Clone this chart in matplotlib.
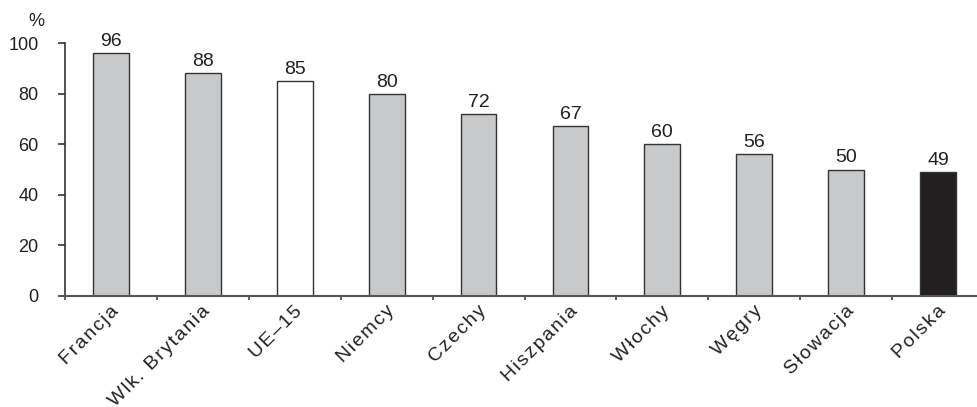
import matplotlib
matplotlib.use("Agg")
import matplotlib.pyplot as plt
import matplotlib.transforms as mtransforms
import numpy as np

plt.rcParams['font.family'] = ['Liberation Sans', 'DejaVu Sans']

categories = ["Francja", "Wlk. Brytania", "UE–15", "Niemcy", "Czechy",
              "Hiszpania", "Włochy", "Węgry", "Słowacja", "Polska"]
values = [96, 88, 85, 80, 72, 67, 60, 56, 50, 49]
kinds = ["country", "country", "eu", "country", "country",
         "country", "country", "country", "country", "home"]
y_ticks = [0, 20, 40, 60, 80, 100]

fill = {"country": "#c8c9cb", "eu": "#ffffff", "home": "#231f20"}
ink = "#231f20"


def spaced(s):
    # widen the tracking of category names with hair spaces
    return "\u200a".join(s)


fig = plt.figure(figsize=(9.77, 4.07), dpi=100)
ax = fig.add_axes([65 / 977, 111 / 407, 10 * 91.9 / 977, 253 / 407])

x = np.arange(len(categories))
ax.bar(x, values, width=0.39, color=[fill[k] for k in kinds],
       edgecolor="#333333", linewidth=1.0, zorder=2)

for xi, v in zip(x, values):
    ax.text(xi, v + 1.2, str(v), ha="center", va="bottom", fontsize=14,
            color=ink, clip_on=False)

ax.set_xlim(-0.5, len(categories) - 0.5)
ax.set_ylim(0, 100)
ax.set_yticks(y_ticks)
ax.set_yticklabels([str(t) for t in y_ticks], fontsize=13, color=ink)
ax.tick_params(axis="y", direction="out", length=5, width=1.2, color="#333333", pad=14)

ax.set_xticks(x)
ax.set_xticklabels([spaced(c) for c in categories], rotation=45, ha="right",
                   va="center", rotation_mode="anchor", fontsize=14, color=ink)
ax.tick_params(axis="x", which="major", length=0, pad=9)
shift = mtransforms.ScaledTranslation(5 / 100, 0, fig.dpi_scale_trans)
for lbl in ax.get_xticklabels():
    lbl.set_transform(lbl.get_transform() + shift)
ax.set_xticks(np.arange(len(categories)) - 0.5, minor=True)
ax.tick_params(axis="x", which="minor", direction="out", length=3, width=1.2, color="#444444")

for s in ["top", "right"]:
    ax.spines[s].set_visible(False)
ax.spines["left"].set_bounds(0, 100)
ax.spines["left"].set_color("#333333")
ax.spines["left"].set_linewidth(1.2)
ax.spines["bottom"].set_color("#555555")
ax.spines["bottom"].set_linewidth(1.5)

fig.text(36 / 977, 1 - 21 / 407, "%", ha="center", va="center", fontsize=13, color=ink)

fig.savefig("out.png", dpi=100, facecolor="white")
